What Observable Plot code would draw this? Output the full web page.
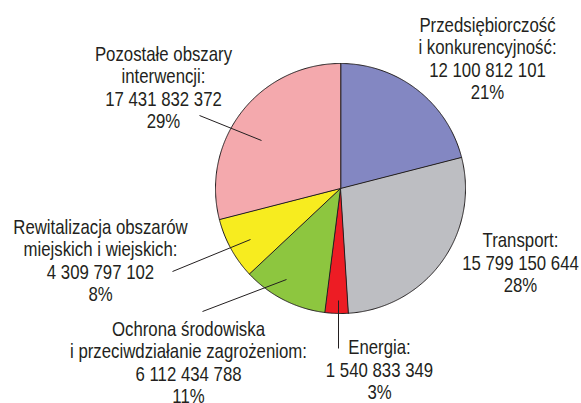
<!DOCTYPE html>
<html>
<head>
<meta charset="utf-8">
<script src="https://cdn.jsdelivr.net/npm/d3@7"></script>
<script src="https://cdn.jsdelivr.net/npm/@observablehq/plot@0.6"></script>
<style>
  html, body { margin: 0; padding: 0; background: #ffffff; }
  #chart svg { display: block; }
</style>
</head>
<body>
<div id="chart"></div>
<script>
// ---- data ----
const categories = [
  "Przedsiębiorczość\ni konkurencyjność:",
  "Transport:",
  "Energia:",
  "Ochrona środowiska\ni przeciwdziałanie zagrożeniom:",
  "Rewitalizacja obszarów\nmiejskich i wiejskich:",
  "Pozostałe obszary\ninterwencji:"
];
const amounts = [12100812101, 15799150644, 1540833349, 6112434788, 4309797102, 17431832372];
const shares = [21, 28, 3, 11, 8, 29];
const colors = ["#8387c2", "#bdbec2", "#ed1c24", "#8dc63f", "#f7ec1f", "#f4a9ad"];

// ---- layout (pixel positions of the reference) ----
const CX = 340, CY = 188, R = 125;
const u = px => (px - CX) / R;
const v = py => (CY - py) / R;
const labelPos = [[487, 58], [520, 262], [379, 369], [188, 362], [100, 260], [163, 87]];
const leaders = [null, null, [338, 300, 338, 348], [286, 279, 202, 311], [250, 239, 172, 271], [261, 140, 199, 115]];

const ink = "#231f20";
const fmt = d3.formatLocale({decimal: ",", thousands: " ", grouping: [3], currency: ["", ""]}).format(",d");

// slice polygons computed from shares
const total = d3.sum(shares);
let acc = 0;
const slices = shares.map((s, i) => {
  const a0 = acc / total * 2 * Math.PI;
  acc += s;
  const a1 = acc / total * 2 * Math.PI;
  const n = Math.max(2, Math.ceil((a1 - a0) / (Math.PI / 360)));
  const pts = [{x: 0, y: 0}];
  for (let k = 0; k <= n; k++) {
    const a = a0 + (a1 - a0) * k / n;
    pts.push({x: Math.sin(a), y: Math.cos(a)});
  }
  return {pts, color: colors[i]};
});

const labels = categories.map((c, i) => ({
  text: c + "\n" + fmt(amounts[i]) + "\n" + shares[i] + "%",
  x: u(labelPos[i][0]),
  y: v(labelPos[i][1])
}));

const links = leaders.filter(d => d).map(d => ({x1: u(d[0]), y1: v(d[1]), x2: u(d[2]), y2: v(d[3])}));

// condensed (Arial Narrow–like) rendering of the label text
const narrow = (index, scales, values, dims, context, next) => {
  const g = next(index, scales, values, dims, context);
  d3.select(g).selectAll("text").attr("transform", function () {
    return (this.getAttribute("transform") || "") + " scale(0.84,1)";
  });
  return g;
};

const chart = Plot.plot({
  width: 581,
  height: 403,
  margin: 0,
  x: {domain: [-1, 1], range: [CX - R, CX + R], axis: null},
  y: {domain: [-1, 1], range: [CY + R, CY - R], axis: null},
  style: {background: "#ffffff"},
  marks: [
    ...slices.map(s => Plot.line(s.pts, {x: "x", y: "y", curve: "linear-closed", fill: s.color, stroke: ink, strokeWidth: 1, strokeLinejoin: "round"})),
    Plot.link(links, {x1: "x1", y1: "y1", x2: "x2", y2: "y2", stroke: ink, strokeWidth: 1}),
    Plot.text(labels, {
      x: "x", y: "y", text: "text",
      fontSize: 20, lineHeight: 1.12, lineAnchor: "middle", textAnchor: "middle",
      fill: ink,
      fontFamily: "'Liberation Sans', Arial, sans-serif",
      render: narrow
    })
  ]
});
document.getElementById("chart").appendChild(chart);
</script>
</body>
</html>
